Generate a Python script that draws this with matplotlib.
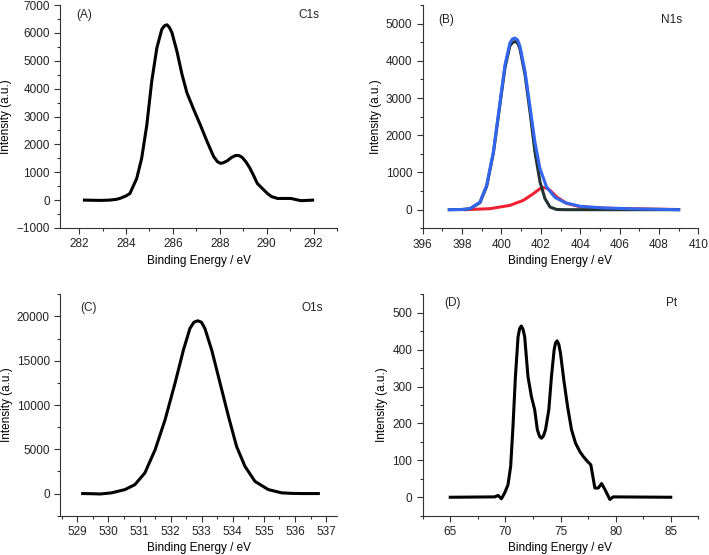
import matplotlib
matplotlib.use("Agg")
import matplotlib.pyplot as plt
from matplotlib.ticker import MultipleLocator

plt.rcParams['font.family'] = ['Liberation Sans', 'DejaVu Sans']
plt.rcParams['font.size'] = 8.5
plt.rcParams['text.color'] = '#222222'
plt.rcParams['xtick.color'] = '#222222'
plt.rcParams['ytick.color'] = '#222222'

# (A) C1s
c1s_x = [282.23, 282.9, 283.3, 283.6, 283.74, 284.0, 284.17, 284.46, 284.67, 284.89,
         285.1, 285.32, 285.53, 285.65, 285.75, 285.85, 285.96, 286.17, 286.39, 286.6,
         286.89, 287.17, 287.46, 287.74, 287.9, 288.03, 288.15, 288.32, 288.5, 288.67,
         288.82, 288.96, 289.12, 289.29, 289.45, 289.6, 289.8, 290.03, 290.2, 290.46,
         290.7, 291.03, 291.46, 291.96]
c1s_y = [0, -10, 0, 30, 61, 150, 240, 780, 1500, 2700,
         4270, 5470, 6130, 6260, 6290, 6200, 6010, 5350, 4510, 3850,
         3250, 2700, 2100, 1560, 1380, 1320, 1340, 1410, 1530, 1600,
         1600, 1530, 1370, 1140, 870, 600, 430, 240, 130, 60,
         60, 60, -20, 0]

# (B) N1s: envelope, main component, second component
n1s_env_x = [397.35, 398.0, 398.4, 398.91, 399.25, 399.59, 399.93, 400.18, 400.43, 400.56,
             400.69, 400.82, 400.94, 401.2, 401.45, 401.7, 401.96, 402.3, 402.72, 403.23,
             404.0, 405.26, 406.95, 409.0]
n1s_env_y = [0, 5, 27, 205, 655, 1555, 2900, 3890, 4480, 4590,
             4610, 4560, 4390, 3710, 2770, 1820, 1100, 600, 330, 190,
             90, 45, 20, 0]
n1s_a_x = [397.35, 398.0, 398.4, 398.91, 399.25, 399.59, 399.93, 400.18, 400.43, 400.58,
           400.72, 400.84, 400.94, 401.2, 401.45, 401.7, 401.96, 402.21, 402.47, 402.81,
           403.3, 409.0]
n1s_a_y = [0, 5, 25, 190, 630, 1520, 2850, 3820, 4400, 4500,
           4520, 4460, 4320, 3620, 2630, 1555, 745, 297, 70, 5,
           0, 0]
n1s_b_x = [398.15, 399.42, 400.43, 401.11, 401.62, 401.96, 402.1, 402.21, 402.33, 402.47,
           402.81, 403.31, 403.99, 405.0, 406.1, 409.0]
n1s_b_y = [0, 27, 116, 250, 430, 565, 590, 590, 570, 520,
           340, 170, 80, 45, 30, 5]

# (C) O1s
o1s_x = [529.17, 529.5, 529.73, 530.1, 530.53, 530.85, 531.17, 531.5, 531.82, 532.14,
         532.41, 532.62, 532.75, 532.87, 532.99, 533.1, 533.32, 533.59, 533.86, 534.12,
         534.39, 534.71, 535.14, 535.57, 535.9, 536.27, 536.75]
o1s_y = [0, -20, -50, 80, 450, 1010, 2330, 4950, 8330, 12460,
         16210, 18650, 19350, 19510, 19350, 18650, 16210, 12460, 8700, 5320,
         3070, 1380, 450, 80, 20, 0, 0]

# (D) Pt
pt_x = [65.0, 69.03, 69.33, 69.64, 69.94, 70.24, 70.48, 70.69, 70.91, 71.15,
        71.3, 71.45, 71.6, 71.75, 72.05, 72.36, 72.66, 72.9, 73.1, 73.27,
        73.45, 73.64, 73.94, 74.18, 74.42, 74.55, 74.69, 74.85, 75.0, 75.3,
        75.64, 76.0, 76.36, 76.75, 77.05, 77.45, 77.75, 77.96, 78.12, 78.42,
        78.73, 79.03, 79.33, 79.48, 79.78, 85.0]
pt_y = [0, 1, 5, -4, 12, 34, 84, 192, 327, 435,
        458, 464, 455, 435, 327, 273, 237, 183, 165, 160,
        166, 183, 237, 327, 399, 418, 424, 414, 390, 318,
        246, 183, 147, 124, 111, 97, 88, 52, 25, 25,
        37, 21, 3, -6, 1, 0]

W, H = 709, 555
fig = plt.figure(figsize=(W / 100, H / 100), dpi=100)


def make_ax(left, right, top, bottom):
    ax = fig.add_axes([left / W, 1 - bottom / H, (right - left) / W, (bottom - top) / H])
    ax.spines['top'].set_visible(False)
    ax.spines['right'].set_visible(False)
    for s in ('left', 'bottom'):
        ax.spines[s].set_color('#333333')
        ax.spines[s].set_linewidth(0.8)
    ax.tick_params(which='major', direction='out', length=4, width=0.8, color='#333333')
    ax.tick_params(which='minor', direction='out', length=2, width=0.8, color='#333333')
    ax.set_xlabel('Binding Energy / eV', labelpad=3)
    ax.set_ylabel('Intensity (a.u.)', labelpad=3)
    return ax


def labels(ax, tag, name, xt, xn, yt):
    ax.text(xt, yt, tag, transform=ax.transAxes, ha='left', va='center')
    ax.text(xn, yt, name, transform=ax.transAxes, ha='left', va='center')


lw = 2.2

ax = make_ax(60.3, 337, 5, 228)
ax.plot(c1s_x, c1s_y, color='black', lw=lw, solid_joinstyle='round')
ax.set_xlim(281.2, 293.0)
ax.set_ylim(-1000, 7000)
ax.xaxis.set_major_locator(MultipleLocator(2))
ax.xaxis.set_minor_locator(MultipleLocator(1))
ax.yaxis.set_major_locator(MultipleLocator(1000))
ax.yaxis.set_minor_locator(MultipleLocator(500))
labels(ax, '(A)', 'C1s', 0.059, 0.86, 0.955)

ax = make_ax(422.7, 698.3, 5, 228.3)
ax.plot(n1s_b_x, n1s_b_y, color='#ee2233', lw=lw, solid_joinstyle='round')
ax.plot(n1s_a_x, n1s_a_y, color='#223333', lw=lw, solid_joinstyle='round')
ax.plot(n1s_env_x, n1s_env_y, color='#3366ee', lw=lw, solid_joinstyle='round')
ax.set_xlim(396, 410)
ax.set_ylim(-500, 5500)
ax.xaxis.set_major_locator(MultipleLocator(2))
ax.xaxis.set_minor_locator(MultipleLocator(1))
ax.yaxis.set_major_locator(MultipleLocator(1000))
ax.yaxis.set_minor_locator(MultipleLocator(500))
labels(ax, '(B)', 'N1s', 0.057, 0.865, 0.933)

ax = make_ax(60.3, 337.3, 294.3, 515.7)
ax.plot(o1s_x, o1s_y, color='black', lw=lw, solid_joinstyle='round')
ax.set_xlim(528.45, 537.36)
ax.set_ylim(-2500, 22500)
ax.xaxis.set_major_locator(MultipleLocator(1))
ax.xaxis.set_minor_locator(MultipleLocator(0.5))
ax.yaxis.set_major_locator(MultipleLocator(5000))
ax.yaxis.set_minor_locator(MultipleLocator(2500))
labels(ax, '(C)', 'O1s', 0.071, 0.871, 0.937)

ax = make_ax(422.7, 698.3, 294.3, 515.7)
ax.plot(pt_x, pt_y, color='black', lw=lw, solid_joinstyle='round')
ax.set_xlim(62.5, 87.5)
ax.set_ylim(-50, 550)
ax.xaxis.set_major_locator(MultipleLocator(5))
ax.xaxis.set_minor_locator(MultipleLocator(2.5))
ax.yaxis.set_major_locator(MultipleLocator(100))
ax.yaxis.set_minor_locator(MultipleLocator(50))
labels(ax, '(D)', 'Pt', 0.078, 0.883, 0.959)

fig.savefig('out.png', dpi=100)
